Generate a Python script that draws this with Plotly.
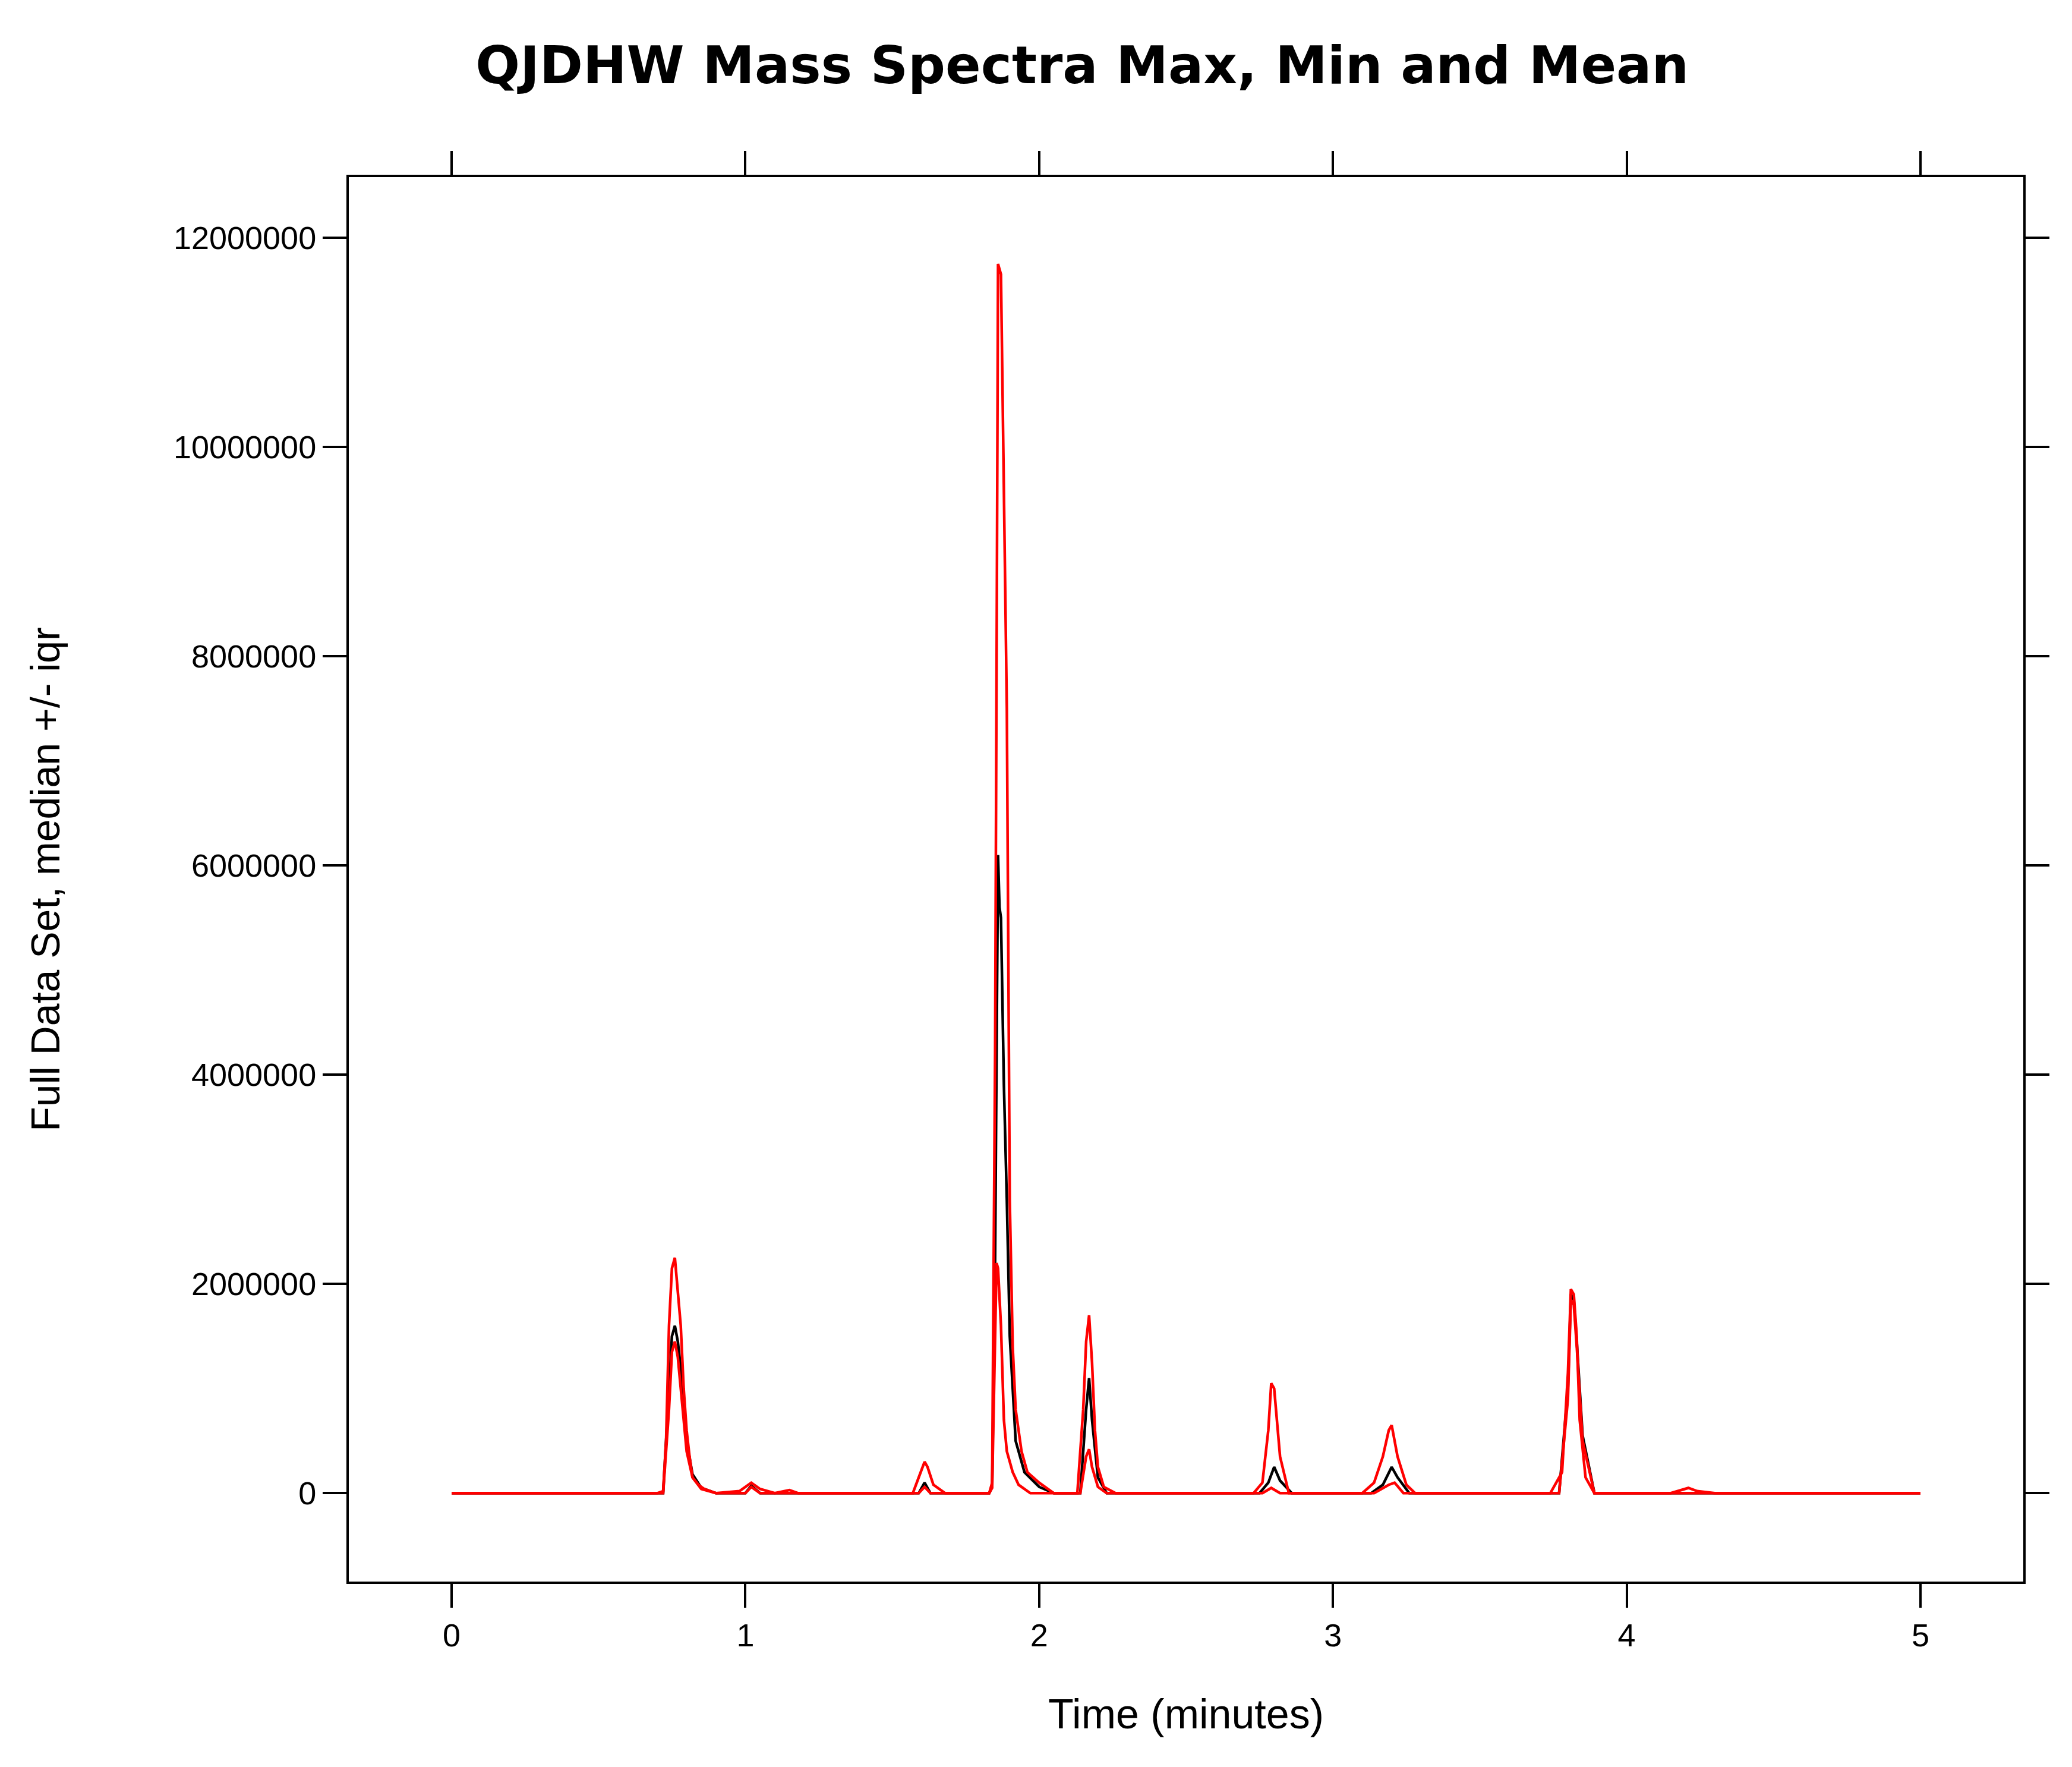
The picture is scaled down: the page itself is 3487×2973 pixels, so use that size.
import plotly.graph_objects as go

# retention time (minutes) and intensity for each summary trace
max_t = [0, 0.70, 0.72, 0.73, 0.74, 0.75, 0.76, 0.77, 0.78, 0.79, 0.80, 0.81, 0.82, 0.84, 0.86, 0.90,
         0.98, 1.02, 1.05, 1.10, 1.15, 1.18, 1.57, 1.59, 1.61, 1.62, 1.64, 1.68, 1.83, 1.84, 1.85,
         1.855, 1.86, 1.87, 1.88, 1.89, 1.90, 1.91, 1.92, 1.94, 1.96, 2.00, 2.05, 2.13, 2.15, 2.16,
         2.17, 2.18, 2.19, 2.20, 2.22, 2.26, 2.73, 2.76, 2.78, 2.79, 2.80, 2.82, 2.85, 3.10, 3.14,
         3.17, 3.19, 3.20, 3.22, 3.25, 3.28, 3.74, 3.78, 3.80, 3.81, 3.82, 3.83, 3.84, 3.86, 3.89,
         4.15, 4.21, 4.24, 4.30, 5.0]
max_v = [0, 0, 20000, 500000, 1600000, 2150000, 2250000, 1900000, 1600000, 1000000, 600000, 350000,
         150000, 80000, 40000, 0, 20000, 100000, 40000, 0, 30000, 0, 0, 150000, 300000, 250000, 80000,
         0, 0, 100000, 4200000, 7800000, 11750000, 11650000, 9600000, 7500000, 2800000, 1400000, 800000,
         400000, 200000, 100000, 0, 0, 800000, 1450000, 1700000, 1250000, 600000, 250000, 60000, 0, 0,
         100000, 600000, 1050000, 1000000, 350000, 0, 0, 100000, 350000, 600000, 650000, 350000, 80000,
         0, 0, 200000, 1150000, 1950000, 1900000, 1500000, 700000, 150000, 0, 0, 50000, 20000, 0, 0]

min_t = [0, 0.72, 0.74, 0.75, 0.76, 0.77, 0.78, 0.80, 0.82, 0.85, 0.90, 1.00, 1.02, 1.05, 1.59,
         1.61, 1.63, 1.83, 1.84, 1.85, 1.855, 1.86, 1.87, 1.88, 1.89, 1.91, 1.93, 1.97, 2.14, 2.16,
         2.17, 2.18, 2.20, 2.23, 2.76, 2.79, 2.82, 3.14, 3.19, 3.21, 3.24, 3.77, 3.80, 3.81, 3.82,
         3.83, 3.85, 3.89, 5.0]
min_v = [0, 0, 800000, 1350000, 1450000, 1300000, 1000000, 400000, 150000, 40000, 0, 0, 60000, 0, 0,
         60000, 0, 0, 50000, 1600000, 2200000, 2150000, 1600000, 700000, 400000, 200000, 80000, 0, 0,
         350000, 420000, 250000, 60000, 0, 0, 50000, 0, 0, 80000, 100000, 0, 0, 900000, 1850000,
         1800000, 1400000, 500000, 0, 0]

mean_t = [0, 0.72, 0.74, 0.75, 0.76, 0.77, 0.78, 0.80, 0.82, 0.85, 0.90, 1.00, 1.02, 1.05, 1.59,
          1.61, 1.63, 1.83, 1.84, 1.85, 1.86, 1.865, 1.87, 1.88, 1.89, 1.90, 1.92, 1.95, 2.00, 2.05,
          2.14, 2.16, 2.17, 2.18, 2.20, 2.23, 2.75, 2.78, 2.80, 2.82, 2.86, 3.13, 3.17, 3.20, 3.22,
          3.26, 3.77, 3.80, 3.81, 3.82, 3.83, 3.85, 3.89, 5.0]
mean_v = [0, 0, 1000000, 1500000, 1600000, 1450000, 1200000, 500000, 180000, 50000, 0, 0, 70000, 0, 0,
          100000, 0, 0, 60000, 2200000, 6100000, 5600000, 5500000, 3900000, 2800000, 1500000, 500000,
          200000, 60000, 0, 0, 800000, 1100000, 700000, 150000, 0, 0, 100000, 250000, 120000, 0, 0,
          80000, 250000, 150000, 0, 0, 1000000, 1900000, 1850000, 1450000, 550000, 0, 0]

y_ticks = [0, 2000000, 4000000, 6000000, 8000000, 10000000, 12000000]
x_ticks = [0, 1, 2, 3, 4, 5]

fig = go.Figure()
fig.add_trace(go.Scatter(x=mean_t, y=mean_v, mode="lines", line=dict(color="black", width=4.5)))
fig.add_trace(go.Scatter(x=min_t, y=min_v, mode="lines", line=dict(color="red", width=4.5)))
fig.add_trace(go.Scatter(x=max_t, y=max_v, mode="lines", line=dict(color="red", width=4.5)))

axis_style = dict(
    showline=True, linecolor="black", linewidth=4, mirror="ticks",
    ticks="outside", ticklen=40, tickwidth=4, tickcolor="black",
    showgrid=False, zeroline=False,
    tickfont=dict(family="Liberation Sans", size=54, color="black"),
)

fig.update_layout(
    width=3487, height=2973,
    paper_bgcolor="white", plot_bgcolor="white",
    showlegend=False,
    title=dict(text="<b>QJDHW Mass Spectra Max, Min and Mean</b>", x=0.52, y=0.966,
               xanchor="center", yanchor="middle",
               font=dict(family="DejaVu Sans", size=88, color="black")),
    margin=dict(l=579, r=90, t=290, b=320),
)
fig.update_xaxes(range=[-0.35, 5.35], tickvals=x_ticks, title=dict(
    text="Time (minutes)", font=dict(family="Liberation Sans", size=70, color="black"), standoff=80),
    **axis_style)
fig.update_yaxes(range=[-845000, 12580000], tickvals=y_ticks, tickformat="d", title=dict(
    text="Full Data Set, median +/- iqr", font=dict(family="Liberation Sans", size=68, color="black"),
    standoff=170), **axis_style)

fig.write_html("out.html")
